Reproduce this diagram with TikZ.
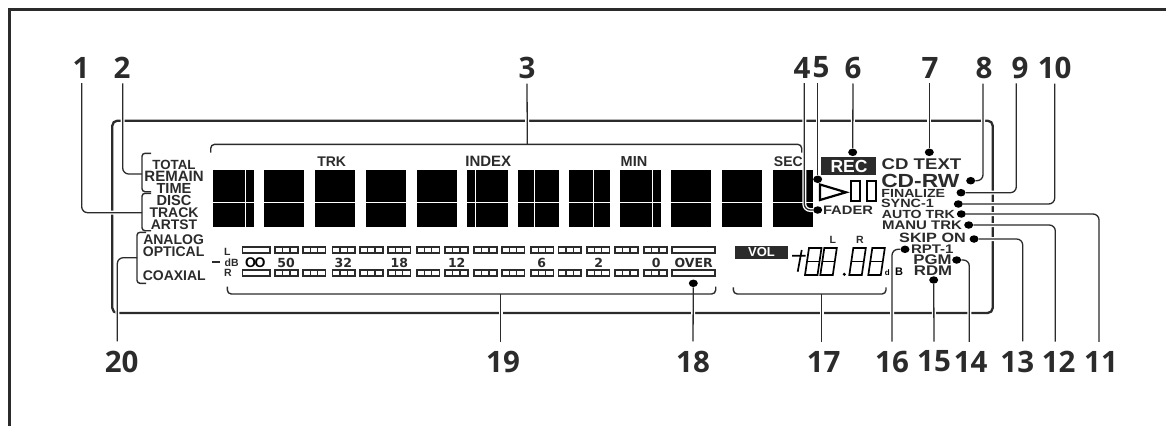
\documentclass[tikz,border=0pt]{standalone}
\usepackage{fontspec}
\usetikzlibrary{shapes.geometric}
\setmainfont{Liberation Sans}
\newfontfamily\widefont[FakeStretch=1.2]{Liberation Sans}
\newfontfamily\numfont{Open Sans}
\newfontfamily\meterfont{DejaVu Sans}
\definecolor{lcdink}{rgb}{0.17, 0.17, 0.17}
\newcommand{\lcdsize}[1]{\fontsize{#1}{#1}\selectfont\bfseries}
\newcommand{\widesize}[1]{\widefont\fontsize{#1}{#1}\selectfont\bfseries}
\tikzset{
  frameline/.style={draw=lcdink, line width=2.8pt},
  panelline/.style={draw=lcdink, line width=2.3pt, rounded corners=5pt},
  leader/.style={draw=lcdink, line width=1.3pt, rounded corners=6pt, preaction={draw=white, line width=4pt}},
  bracket/.style={draw=lcdink, line width=1.4pt, rounded corners=4pt},
  cell/.style={draw=lcdink, line width=1.6pt, fill=white},
  lcddot/.style={ellipse, fill=black, inner sep=0pt, minimum width=9pt, minimum height=7.5pt},
  toplabel/.style={inner sep=0pt, inner ysep=5pt, font=\numfont\bfseries\fontsize{29.5}{29.5}\selectfont, text=lcdink},
  botlabel/.style={inner sep=0pt, inner ysep=9pt, font=\numfont\bfseries\fontsize{29.5}{29.5}\selectfont, text=lcdink},
  lcdtext/.style={inner sep=0pt, text=lcdink},
}
\begin{document}
\begin{tikzpicture}[x=1pt, y=-1pt]
  \useasboundingbox (0,0) rectangle (1166,426);
  \draw[frameline] (1166,9.5) -- (9.5,9.5) -- (9.5,426);
  \draw[panelline] (112.3,120.7) rectangle (992.7,313);

  \foreach \xa/\xb in {212.7/254, 264/304, 315/355, 366/406, 417/457, 467/508, 518/559, 569/610, 620/661, 671/711, 722/762, 773/813} {
    \fill[black] (\xa,170) rectangle (\xb,226.7);
    \draw[white, line width=0.9pt] (\xa,202.3) -- (\xb,202.3);
  }
  \foreach \xv in {245.3, 475.3, 534.3, 593.7, 652.3} {
    \draw[white, line width=0.9pt] (\xv,170) -- (\xv,226.7);
  }

  \foreach \n/\xv in {1/81, 2/122, 3/527, 4/802, 5/821, 6/853, 7/930, 8/984, 9/1020, 10/1054.7} {
    \node[toplabel] (n\n) at (\xv,67.5) {\n};
  }
  \foreach \n/\xv in {11/1101, 12/1058.7, 13/1017.3, 14/970.7, 15/934, 16/892, 17/823.7, 18/693, 19/503, 20/121.7} {
    \node[botlabel] (n\n) at (\xv,361.5) {\n};
  }

  \foreach \n/\xv/\yv in {4/817.7/210, 5/817.7/179.3, 6/852.7/152.3, 7/929.3/152.3, 8/970.7/180.7, 9/961/192.7, 10/958.3/204, 11/961.3/214, 12/968.7/225, 13/974/239, 14/956.7/260, 15/933.7/280, 16/905/249.3, 18/693.3/283.3} {
    \node[lcddot] (d\n) at (\xv,\yv) {};
  }

  \coordinate (b1) at (142,212.7);
  \coordinate (b2) at (142,174);
  \coordinate (b3) at (527.3,144.3);
  \coordinate (b17) at (821.7,294);
  \coordinate (b19) at (500.7,294);
  \coordinate (b20) at (137,257.7);

  \draw[leader] ([xshift=0.7pt]n1.south) |- (b1);
  \draw[leader] ([xshift=0.7pt]n2.south) |- (b2);
  \draw[leader] (n3.south) -- (b3);
  \draw[leader] ([xshift=2.3pt]n4.south) |- (d4);
  \draw[leader] ([xshift=-3.3pt]n5.south) -- (d5);
  \draw[leader] (n6.south) -- (d6);
  \draw[leader] ([xshift=-0.7pt]n7.south) -- (d7);
  \draw[leader] ([xshift=-1pt]n8.south) |- (d8);
  \draw[leader] ([xshift=-3.7pt]n9.south) |- (d9);
  \draw[leader] (n10.south) |- (d10);
  \draw[leader] ([xshift=-2pt]n11.north) |- (d11);
  \draw[leader] ([xshift=-3.4pt]n12.north) |- (d12);
  \draw[leader] ([xshift=5.4pt]n13.north) |- (d13);
  \draw[leader] ([xshift=-1.4pt]n14.north) |- (d14);
  \draw[leader] (n15.north) -- (d15);
  \draw[leader] (n16.north) |- (d16);
  \draw[leader] ([xshift=-2pt]n17.north) -- (b17);
  \draw[leader] (n18.north) -- (d18);
  \draw[leader] ([xshift=-2.3pt]n19.north) -- (b19);
  \draw[leader] ([xshift=-4.4pt]n20.north) |- (b20);

  \draw[bracket] (210.7,152.7) |- (b3) -| (801.7,152.7);
  \draw[bracket] (227.3,286.7) |- (b19) -| (715.7,286.7);
  \draw[bracket] (733.3,287.3) |- (b17) -| (886,287.3);
  \draw[bracket, rounded corners=3pt] (151,153.3) -| (b2) |- (151,191.7);
  \draw[bracket, rounded corners=3pt] (151,193.3) -| (b1) |- (151,230.7);
  \draw[bracket, rounded corners=3pt] (146,232.3) -| (b20) |- (146,283.3);

  \foreach \name/\txt/\xv/\yv/\sz in {total/TOTAL/174/164.7/13.3, remain/REMAIN/174/176.7/15, time/TIME/174/188.7/14.6, disc/DISC/174/200.7/14.6, track/TRACK/174/212.7/14, artst/ARTST/174/224.3/13.9, trk/TRK/331.7/161.7/14, index/INDEX/488.3/161.7/15, min/MIN/634/161.7/14.5, sec/SEC/788.3/161.7/14, analog/ANALOG/173.6/240/14, optical/OPTICAL/173.6/251.7/14, coaxial/COAXIAL/174.3/275.7/14} {
    \node[lcdtext, font=\lcdsize{\sz}] (\name) at (\xv,\yv) {\txt};
  }

  \foreach \xa/\xb in {242.3/270, 671.7/715} {
    \draw[cell] (\xa,247.2) rectangle (\xb,253);
    \draw[cell] (\xa,270.2) rectangle (\xb,276);
  }
  \foreach \xa in {275, 302.7, 332.3, 360, 387.7, 416.7, 445, 474, 501.7, 530.7, 558.3, 586.7, 615, 644} {
    \foreach \yv in {247.2, 270.2} {
      \draw[cell] (\xa,\yv) rectangle ++(22.7,5.8);
      \draw[lcdink, line width=1.3pt] (\xa+7.6,\yv) -- ++(0,5.8) (\xa+15.1,\yv) -- ++(0,5.8);
    }
  }
  \draw[lcdink, line width=1.8pt] (212,262.3) coordinate (dasha) -- (220,262.3) coordinate (dashb);
  \node[lcdtext, font=\lcdsize{10.5}] (meterl) at (227.3,251.7) {L};
  \node[lcdtext, font=\lcdsize{10.5}] (meterdb) at (231.7,263) {dB};
  \node[lcdtext, font=\lcdsize{10.5}] (meterr) at (228,273.3) {R};
  \node[lcdtext, text=black, font=\lcdsize{14}] (inf) at (255.3,262.7) {O\kern-1.5ptO};
  \foreach \txt/\xv in {50/286, 32/343.3, 18/399.3, 12/456.7, 6/541.7, 2/598.7, 0/656.3} {
    \node[lcdtext, font=\meterfont\bfseries\fontsize{12.5}{12.5}\selectfont] (m\txt) at (\xv,263) {\txt};
  }
  \node[lcdtext, font=\meterfont\bfseries\fontsize{12.5}{12.5}\selectfont] (over) at (693.7,263) {OVER};

  \fill[lcdink] (820.7,157.3) rectangle (875.7,175);
  \node[lcdtext, text=white, font=\lcdsize{17.5}] (rec) at (849,166.5) {REC};
  \draw[black, line width=2.2pt, line join=miter] (820,184.5) -- (846,192.3) -- (820,200) -- cycle;
  \draw[black, line width=2pt] (851,181) rectangle (860,200.5);
  \draw[black, line width=2pt] (867,181) rectangle (876,200.5);

  \foreach \name/\txt/\xv/\yv/\sz in {cdtext/CD TEXT/921.5/164.3/15.5, cdrw/CD-RW/920.3/180.7/19, finalize/FINALIZE/913.3/193.3/11.8, sync/SYNC-1/907.5/203.3/12, fader/FADER/848/210.3/12.3, autotrk/AUTO TRK/918.3/214.7/11.8, manutrk/MANU TRK/922/225.3/12.5, skipon/SKIP ON/932.5/238.3/13.5, rpt/RPT-1/932.3/249.3/12.5, pgm/PGM/932.5/260/14, rdm/RDM/933/270.3/14} {
    \node[lcdtext, font=\widesize{\sz}] (\name) at (\xv,\yv) {\txt};
  }

  \fill[lcdink] (735,246) rectangle (788,259);
  \node[lcdtext, text=white, font=\lcdsize{13}] (vol) at (761.5,252.5) {VOL};
  \node[lcdtext, font=\lcdsize{10.5}] (voll) at (832.7,240) {L};
  \node[lcdtext, font=\lcdsize{10.5}] (volr) at (860,240) {R};
  \node[lcdtext, text=black, font=\lcdsize{11}] (voldb) at (894,272) {{\fontsize{8}{8}\selectfont d}\kern 5.5pt B};

  \draw[black, line width=1.7pt] (792,255.7) -- (805.7,255.7) (801.7,250) -- (797.7,271.7);
  \foreach \xv in {809, 824.3, 853.3, 872.3} {
    \draw[black, line width=1.7pt] (\xv,248) -- (\xv+12.5,248) -- (\xv+8.5,275) -- (\xv-4,275) -- cycle;
    \draw[black, line width=1.7pt] (\xv-2,261.5) -- (\xv+10.5,261.5);
  }
  \fill[black] (844.3,274.3) circle (1.7);
\end{tikzpicture}
\end{document}
